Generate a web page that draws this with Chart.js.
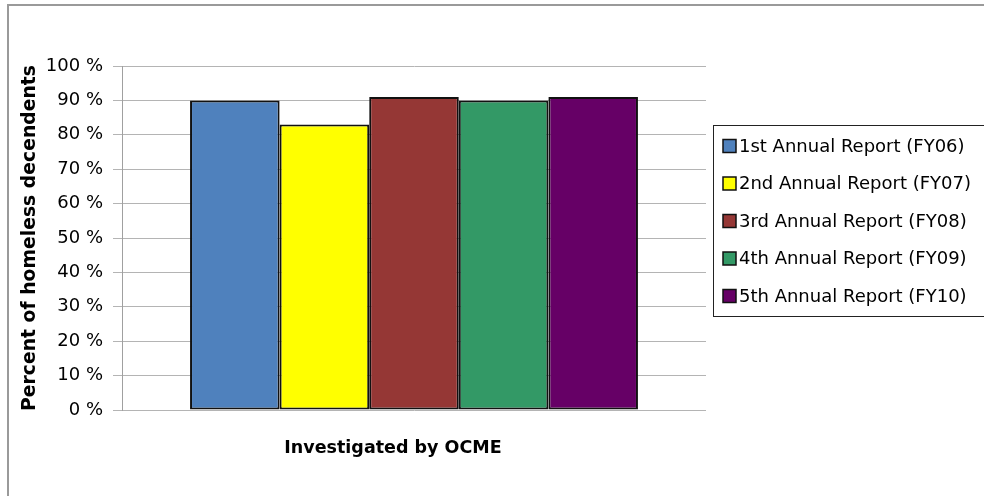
<!DOCTYPE html>
<html>
<head>
<meta charset="utf-8">
<script src="https://cdn.jsdelivr.net/npm/chart.js@4"></script>
<style>
  html, body { margin: 0; padding: 0; background: #fff; }
  #wrap { position: relative; width: 984px; height: 496px; }
</style>
</head>
<body>
<div id="wrap"><canvas id="c" width="984" height="496"></canvas></div>
<script>
const categories = ['Investigated by OCME'];
const seriesLabels = [
  '1st Annual Report (FY06)',
  '2nd Annual Report (FY07)',
  '3rd Annual Report (FY08)',
  '4th Annual Report (FY09)',
  '5th Annual Report (FY10)'
];
const fy06 = [90];
const fy07 = [83];
const fy08 = [91];
const fy09 = [90];
const fy10 = [91];
const seriesColors = ['#4F81BD', '#FFFF00', '#953735', '#339966', '#660066'];
const yAxisTitle = 'Percent of homeless decendents';
const yMin = 0, yMax = 100, yStep = 10;

const FONT = '"DejaVu Sans", sans-serif';

const allSeries = [fy06, fy07, fy08, fy09, fy10];

const outerBorder = {
  id: 'outerBorder',
  beforeDraw(chart) {
    const ctx = chart.ctx;
    ctx.save();
    ctx.strokeStyle = '#9a9a9a';
    ctx.lineWidth = 2;
    ctx.strokeRect(8, 5, 1000, 1000);
    ctx.restore();
  }
};

const boxLegend = {
  id: 'boxLegend',
  afterDraw(chart) {
    const ctx = chart.ctx;
    const ds = chart.data.datasets;
    const left = 713.5, top = 125.5, h = 191;
    ctx.save();
    ctx.strokeStyle = '#222';
    ctx.lineWidth = 1;
    ctx.strokeRect(left, top, 400, h);
    const spacing = 37.5;
    const cy0 = top + h / 2 - spacing * (ds.length - 1) / 2;
    ctx.font = '18px ' + FONT;
    ctx.textBaseline = 'middle';
    ctx.textAlign = 'left';
    ds.forEach((d, i) => {
      const cy = cy0 + i * spacing;
      ctx.fillStyle = d.backgroundColor;
      ctx.fillRect(723, cy - 6.5, 13, 13);
      ctx.strokeStyle = '#111';
      ctx.lineWidth = 1.5;
      ctx.strokeRect(723, cy - 6.5, 13, 13);
      ctx.fillStyle = '#000';
      ctx.fillText(d.label, 739, cy + 1);
    });
    ctx.restore();
  }
};

new Chart(document.getElementById('c'), {
  type: 'bar',
  data: {
    labels: categories,
    datasets: allSeries.map((vals, i) => ({
      label: seriesLabels[i],
      data: vals,
      backgroundColor: seriesColors[i],
      borderColor: '#111',
      borderWidth: 2,
      borderSkipped: false,
      categoryPercentage: 0.767,
      barPercentage: 1.0
    }))
  },
  options: {
    responsive: false,
    animation: false,
    devicePixelRatio: 1,
    layout: { padding: { left: 0, top: 66, right: 278, bottom: 0 } },
    plugins: {
      legend: { display: false },
      tooltip: { enabled: false }
    },
    scales: {
      x: {
        grid: { display: false, drawTicks: false },
        border: { display: false },
        ticks: {
          color: '#000',
          padding: 28,
          labelOffset: -21,
          font: { family: FONT, size: 17.5, weight: 'bold' }
        },
        afterFit(scale) { scale.height = 86; }
      },
      y: {
        min: yMin,
        max: yMax,
        grid: { color: '#b4b4b4', lineWidth: 1, tickLength: 9 },
        border: { color: '#a0a0a0', width: 1 },
        ticks: {
          stepSize: yStep,
          color: '#000',
          padding: 10,
          font: { family: FONT, size: 18 },
          callback: v => v + ' %'
        },
        title: {
          display: true,
          text: yAxisTitle,
          color: '#000',
          padding: { top: 19, bottom: 0 },
          font: { family: FONT, size: 18.8, weight: 'bold' }
        },
        afterFit(scale) { scale.width = 122; }
      }
    }
  },
  plugins: [outerBorder, boxLegend]
});
</script>
</body>
</html>
